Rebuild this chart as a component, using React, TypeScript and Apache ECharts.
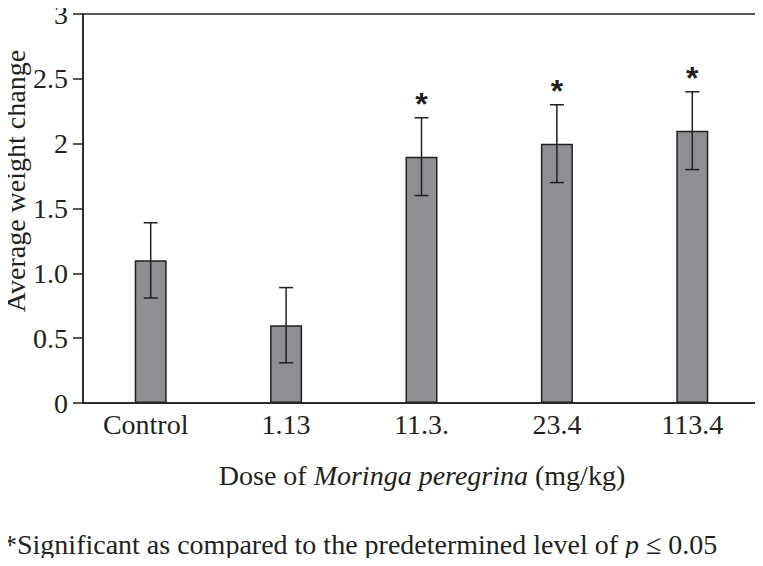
import React, { useEffect, useRef } from "react";
import * as echarts from "echarts";

const categories = ["Control", "1.13", "11.3.", "23.4", "113.4"];
const means = [1.1, 0.6, 1.9, 2.0, 2.1];
const errors = [0.29, 0.29, 0.3, 0.3, 0.3];
const significant = [false, false, true, true, true];
const yTickLabels = ["0", "0.5", "1.0", "1.5", "2", "2.5", "3"];

const SERIF = "'Liberation Serif', 'Times New Roman', serif";
const INK = "#231f20";

export default function App() {
  const ref = useRef<HTMLDivElement>(null);
  useEffect(() => {
    if (!ref.current) return;
    const chart = echarts.init(ref.current, null, { renderer: "svg" });
    const errData = categories.map((_, i) => [i, means[i], errors[i], significant[i] ? 1 : 0]);
    chart.setOption({
      animation: false,
      backgroundColor: "#ffffff",
      grid: {
        left: 83,
        right: 3,
        top: 10,
        bottom: 163,
        show: true,
        borderColor: INK,
        borderWidth: 1.5,
        containLabel: false,
      },
      xAxis: {
        type: "category",
        data: categories,
        axisLine: { show: true, lineStyle: { color: INK, width: 1.5 } },
        axisTick: { show: false },
        axisLabel: {
          interval: 0,
          hideOverlap: false,
          color: INK,
          fontFamily: SERIF,
          fontSize: 28,
          margin: 7,
          formatter: (v: string, i: number) => (i === 0 ? `{c|${v}}` : v),
          rich: {
            c: { fontFamily: SERIF, fontSize: 28, color: INK, padding: [0, 10, 0, 0] },
          },
        },
        splitLine: { show: false },
      },
      yAxis: {
        type: "value",
        min: 0,
        max: 3,
        interval: 0.5,
        axisLine: { show: true, lineStyle: { color: INK, width: 1.5 } },
        axisTick: { show: true, inside: false, length: 10, lineStyle: { color: INK, width: 1.5 } },
        axisLabel: {
          color: INK,
          fontFamily: SERIF,
          fontSize: 28,
          margin: 15,
          formatter: (v: number) => yTickLabels[Math.round(v / 0.5)] ?? String(v),
        },
        splitLine: { show: false },
      },
      series: [
        {
          type: "bar",
          data: means,
          barWidth: 32,
          itemStyle: { color: "#8e8f93", borderColor: INK, borderWidth: 1.5 },
          silent: true,
        },
        {
          type: "custom",
          data: errData,
          silent: true,
          z: 10,
          renderItem: (params: any, api: any) => {
            const x = api.value(0);
            const m = api.value(1);
            const e = api.value(2);
            const sig = api.value(3);
            const top = api.coord([x, m + e]);
            const bot = api.coord([x, m - e]);
            const hw = 7;
            const style = { stroke: INK, lineWidth: 1.5 };
            const children: any[] = [
              { type: "line", shape: { x1: top[0], y1: top[1], x2: bot[0], y2: bot[1] }, style },
              { type: "line", shape: { x1: top[0] - hw, y1: top[1], x2: top[0] + hw, y2: top[1] }, style },
              { type: "line", shape: { x1: bot[0] - hw, y1: bot[1], x2: bot[0] + hw, y2: bot[1] }, style },
            ];
            if (sig) {
              children.push({
                type: "text",
                x: top[0],
                y: top[1] - 14,
                style: {
                  text: "*",
                  fill: INK,
                  font: "bold 32px 'Liberation Sans', Arial, sans-serif",
                  textAlign: "center",
                  textVerticalAlign: "middle",
                },
              });
            }
            return { type: "group", children };
          },
        },
      ],
      graphic: [
        {
          type: "text",
          x: 15,
          y: 181,
          rotation: Math.PI / 2,
          style: {
            text: "Average weight change",
            fill: INK,
            font: `28px ${SERIF}`,
            textAlign: "center",
            textVerticalAlign: "middle",
          },
        },
        {
          type: "text",
          x: 422,
          y: 475,
          style: {
            text: "{n|Dose of }{i|Moringa peregrina}{n| (mg/kg)}",
            textAlign: "center",
            textVerticalAlign: "middle",
            rich: {
              n: { fontFamily: SERIF, fontSize: 28, fill: INK, color: INK },
              i: { fontFamily: SERIF, fontSize: 28, fontStyle: "italic", fill: INK, color: INK },
            },
          },
        },
        {
          type: "text",
          x: 3,
          y: 544,
          style: {
            text: "{n|*Significant as compared to the predetermined level of }{i|p}{n| ≤ 0.05}",
            textAlign: "left",
            textVerticalAlign: "middle",
            rich: {
              n: { fontFamily: SERIF, fontSize: 28, fill: INK, color: INK },
              i: { fontFamily: SERIF, fontSize: 28, fontStyle: "italic", fill: INK, color: INK },
            },
          },
        },
      ],
    });
    return () => chart.dispose();
  }, []);
  return <div ref={ref} style={{ width: 763, height: 566, margin: -8 }} />;
}
